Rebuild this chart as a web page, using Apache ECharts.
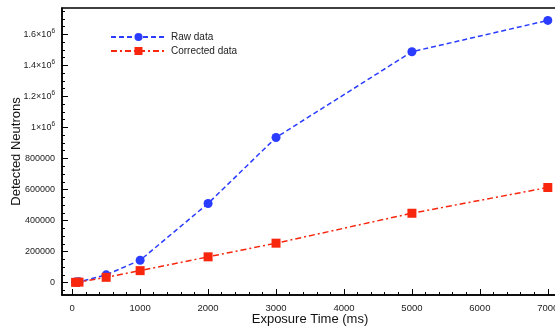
<!DOCTYPE html>
<html><head><meta charset="utf-8">
<script src="https://cdn.jsdelivr.net/npm/echarts@6/dist/echarts.min.js"></script>
<style>html,body{margin:0;padding:0;background:#fff}#c{width:555px;height:327px}</style>
</head><body><div id="c"></div>
<script>
const exposure = [50, 100, 500, 1000, 2000, 3000, 5000, 7000];
const rawData = [3000, 5000, 50000, 144000, 510000, 935000, 1488000, 1690000];
const correctedData = [1500, 3000, 34000, 77000, 166000, 254000, 447000, 613000];
const xTicks = [0, 1000, 2000, 3000, 4000, 5000, 6000, 7000];
const xMinorTicks = [200,400,600,800,1200,1400,1600,1800,2200,2400,2600,2800,3200,3400,3600,3800,4200,4400,4600,4800,5200,5400,5600,5800,6200,6400,6600,6800,7200];
const yTicks = [0, 200000, 400000, 600000, 800000, 1000000, 1200000, 1400000, 1600000];
const yMinorTicks = [-50000,50000,100000,150000,250000,300000,350000,450000,500000,550000,650000,700000,750000,850000,900000,950000,1050000,1100000,1150000,1250000,1300000,1350000,1450000,1500000,1550000,1650000,1700000,1750000];

const chart = echarts.init(document.getElementById('c'));
const font = 'Liberation Sans, Arial, Helvetica, sans-serif';
const xRange = {min: -150, max: 7150};
const yRange = {min: -80000, max: 1770000};
function yFmt(v) {
  if (v >= 1000000) {
    const m = v / 1000000;
    return '{b|' + (Math.round(m * 10) / 10) + '×10}{s|6}';
  }
  return '{b|' + v + '}';
}
chart.setOption({
  animation: false,
  grid: {left: 62, top: 8, width: 496, height: 287, show: true, borderColor: '#000', borderWidth: 1.5, outerBoundsMode: 'none', containLabel: false},
  legend: {
    orient: 'vertical', left: 105, top: 27, itemWidth: 55, itemHeight: 10, itemGap: 4,
    textStyle: {fontFamily: font, fontSize: 10, color: '#222'},
    data: ['Raw data', 'Corrected data']
  },
  xAxis: [{
    type: 'value', ...xRange,
    name: 'Exposure Time (ms)', nameLocation: 'middle', nameGap: 18, nameMoveOverlap: false,
    nameTextStyle: {fontFamily: font, fontSize: 13, color: '#111'},
    axisLine: {show: true, onZero: false, lineStyle: {color: '#000', width: 1.5}},
    axisTick: {show: true, inside: true, length: 6, customValues: xTicks, lineStyle: {color: '#000', width: 1}},
    axisLabel: {customValues: xTicks, formatter: v => String(v), fontFamily: font, fontSize: 9.5, color: '#222', margin: 8},
    splitLine: {show: false}
  }, {
    type: 'value', ...xRange, position: 'bottom',
    axisLine: {show: false, onZero: false},
    axisTick: {show: true, inside: true, length: 3, customValues: xMinorTicks, lineStyle: {color: '#000', width: 1}},
    axisLabel: {show: false}, splitLine: {show: false}
  }],
  yAxis: [{
    type: 'value', ...yRange,
    name: 'Detected Neutrons', nameLocation: 'middle', nameGap: 39, nameMoveOverlap: false,
    nameTextStyle: {fontFamily: font, fontSize: 13, color: '#111'},
    axisLine: {show: true, onZero: false, lineStyle: {color: '#000', width: 1.5}},
    axisTick: {show: true, inside: true, length: 6, customValues: yTicks, lineStyle: {color: '#000', width: 1}},
    axisLabel: {
      customValues: yTicks, formatter: yFmt, margin: 7,
      rich: {
        b: {fontFamily: font, fontSize: 9, color: '#222'},
        s: {fontFamily: font, fontSize: 6.5, color: '#222', padding: [0, 0, 7, 0]}
      }
    },
    splitLine: {show: false}
  }, {
    type: 'value', ...yRange, position: 'left', offset: 0,
    axisLine: {show: false, onZero: false},
    axisTick: {show: true, inside: true, length: 3, customValues: yMinorTicks, lineStyle: {color: '#000', width: 1}},
    axisLabel: {show: false}, splitLine: {show: false}
  }],
  series: [{
    name: 'Raw data', type: 'line',
    data: exposure.map((x, i) => [x, rawData[i]]),
    symbol: 'circle', symbolSize: 9,
    itemStyle: {color: '#2a3cff'},
    lineStyle: {color: '#2a3cff', width: 1.5, type: [5, 3]},
    z: 2
  }, {
    name: 'Corrected data', type: 'line',
    data: exposure.map((x, i) => [x, correctedData[i]]),
    symbol: 'rect', symbolSize: 9,
    itemStyle: {color: '#f8260c'},
    lineStyle: {color: '#f8260c', width: 1.5, type: [6, 3, 2, 3]},
    z: 3
  }]
});
</script></body></html>
